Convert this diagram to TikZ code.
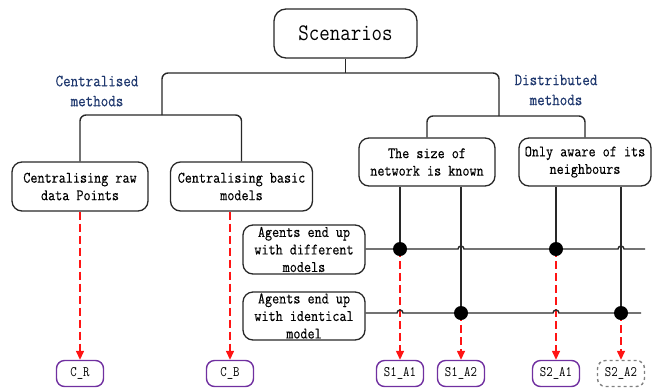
\documentclass[tikz,border=0pt]{standalone}
\usepackage{fontspec}
\usetikzlibrary{arrows.meta}
\newfontfamily\dfont{Latin Modern Mono}[FakeStretch=0.86,FakeBold=0.3]
\newfontfamily\lfont{Latin Modern Mono}[FakeStretch=0.86]
\definecolor{lineg}{RGB}{40,40,40}
\definecolor{lblue}{RGB}{31,56,110}
\definecolor{purp}{RGB}{112,48,160}
\definecolor{arrred}{RGB}{255,20,20}
\definecolor{dgray}{RGB}{128,128,128}
\tikzset{
  box/.style={draw=lineg, line width=1.3pt, rounded corners=10pt, align=center,
    inner sep=0pt, font=\dfont\fontsize{16}{17.5}\selectfont},
  leaf/.style={draw=purp, line width=1.4pt, rounded corners=8pt, inner sep=0pt,
    minimum width=47pt, minimum height=26pt, font=\lfont\fontsize{14.5}{16}\selectfont},
  leafgray/.style={leaf, draw=dgray, dashed},
  lbl/.style={align=center, text=lblue, inner sep=0pt, font=\dfont\fontsize{17}{20}\selectfont},
  conn/.style={draw=lineg, line width=1.4pt},
  bracket/.style={conn, rounded corners=6pt},
  redarr/.style={draw=arrred, line width=1.4pt, dash pattern=on 8pt off 4pt,
    -{Triangle[width=8pt,length=9pt]}, arrred},
  dot/.style={circle, fill=black, inner sep=0pt, minimum size=14pt},
}
\begin{document}
\begin{tikzpicture}[x=1pt,y=-1pt]
\useasboundingbox (0,0) rectangle (652,389);

% main boxes
\node[box, minimum width=143pt, minimum height=49pt, rounded corners=12pt,
  font=\lfont\fontsize{23.7}{27}\selectfont] (scen) at (345.5,33.5) {Scenarios};
\node[box, minimum width=136pt, minimum height=49pt] (raw) at (80,186.5) {Centralising raw\\data Points};
\node[box, minimum width=142pt, minimum height=49pt] (basic) at (241.5,186.5) {Centralising basic\\models};
\node[box, minimum width=136pt, minimum height=48pt] (tsize) at (427,162) {The size of\\network is known};
\node[box, minimum width=132pt, minimum height=48pt] (aware) at (585,162) {Only aware of its\\neighbours};
\node[box, minimum width=122pt, minimum height=49pt] (diff) at (304,249.5) {Agents end up\\with different\\models};
\node[box, minimum width=122pt, minimum height=48pt] (ident) at (304,316) {Agents end up\\with identical\\model};

% labels
\node[lbl] (lcent) at (97,91) {Centralised\\methods};
\node[lbl] (ldist) at (556,90) {Distributed\\methods};

% leaves
\node[leaf] (cr) at (80,373.5) {C\_R};
\node[leaf] (cb) at (230,373.5) {C\_B};
\node[leaf] (s11) at (400,373.5) {S1\_A1};
\node[leaf] (s12) at (461,373.5) {S1\_A2};
\node[leaf] (s21) at (556,373.5) {S2\_A1};
\node[leafgray] (s22) at (621,373.5) {S2\_A2};

% tree brackets
\coordinate (bar) at (345.5,73);
\coordinate (cl) at (162,115);
\coordinate (dr) at (499,116);
\draw[conn] (scen.south) -- (bar);
\draw[bracket] (cl) |- (bar) -| (dr);
\draw[bracket] (raw.north) |- (cl) -| (basic.north);
\draw[bracket] (tsize.north) |- (dr) -| (aware.north);

% dot coordinates
\coordinate (p1) at (400,249);
\coordinate (p2) at (461,313);
\coordinate (p3) at (556,249);
\coordinate (p4) at (621,313);
\coordinate (de) at (645,249);
\coordinate (ie) at (641,313);

% vertical connectors
\draw[conn] (p1 |- tsize.south) -- (p1);
\draw[conn] (p2 |- tsize.south) -- (p2);
\draw[conn] (p3 |- aware.south) -- (p3);
\draw[conn] (p4 |- aware.south) -- (p4);

% red dashed arrows
\draw[redarr] (raw.south) -- (cr.north);
\draw[redarr] (cb.north |- basic.south) -- (cb.north);
\draw[redarr] (p1) -- (s11.north);
\draw[redarr] (p2) -- (s12.north);
\draw[redarr] (p3) -- (s21.north);
\draw[redarr] (p4) -- (s22.north);

% horizontal lines with hops
\draw[conn] (diff.east |- de) -- (458,249) arc[start angle=180,end angle=360,radius=3]
  -- (618,249) arc[start angle=180,end angle=360,radius=3] -- (de);
\draw[conn] (ident.east |- ie) -- (397,313) arc[start angle=180,end angle=360,radius=3]
  -- (553,313) arc[start angle=180,end angle=360,radius=3] -- (ie);

% dots
\node[dot] (d1) at (p1) {};
\node[dot] (d2) at (p2) {};
\node[dot] (d3) at (p3) {};
\node[dot] (d4) at (p4) {};
\end{tikzpicture}
\end{document}
